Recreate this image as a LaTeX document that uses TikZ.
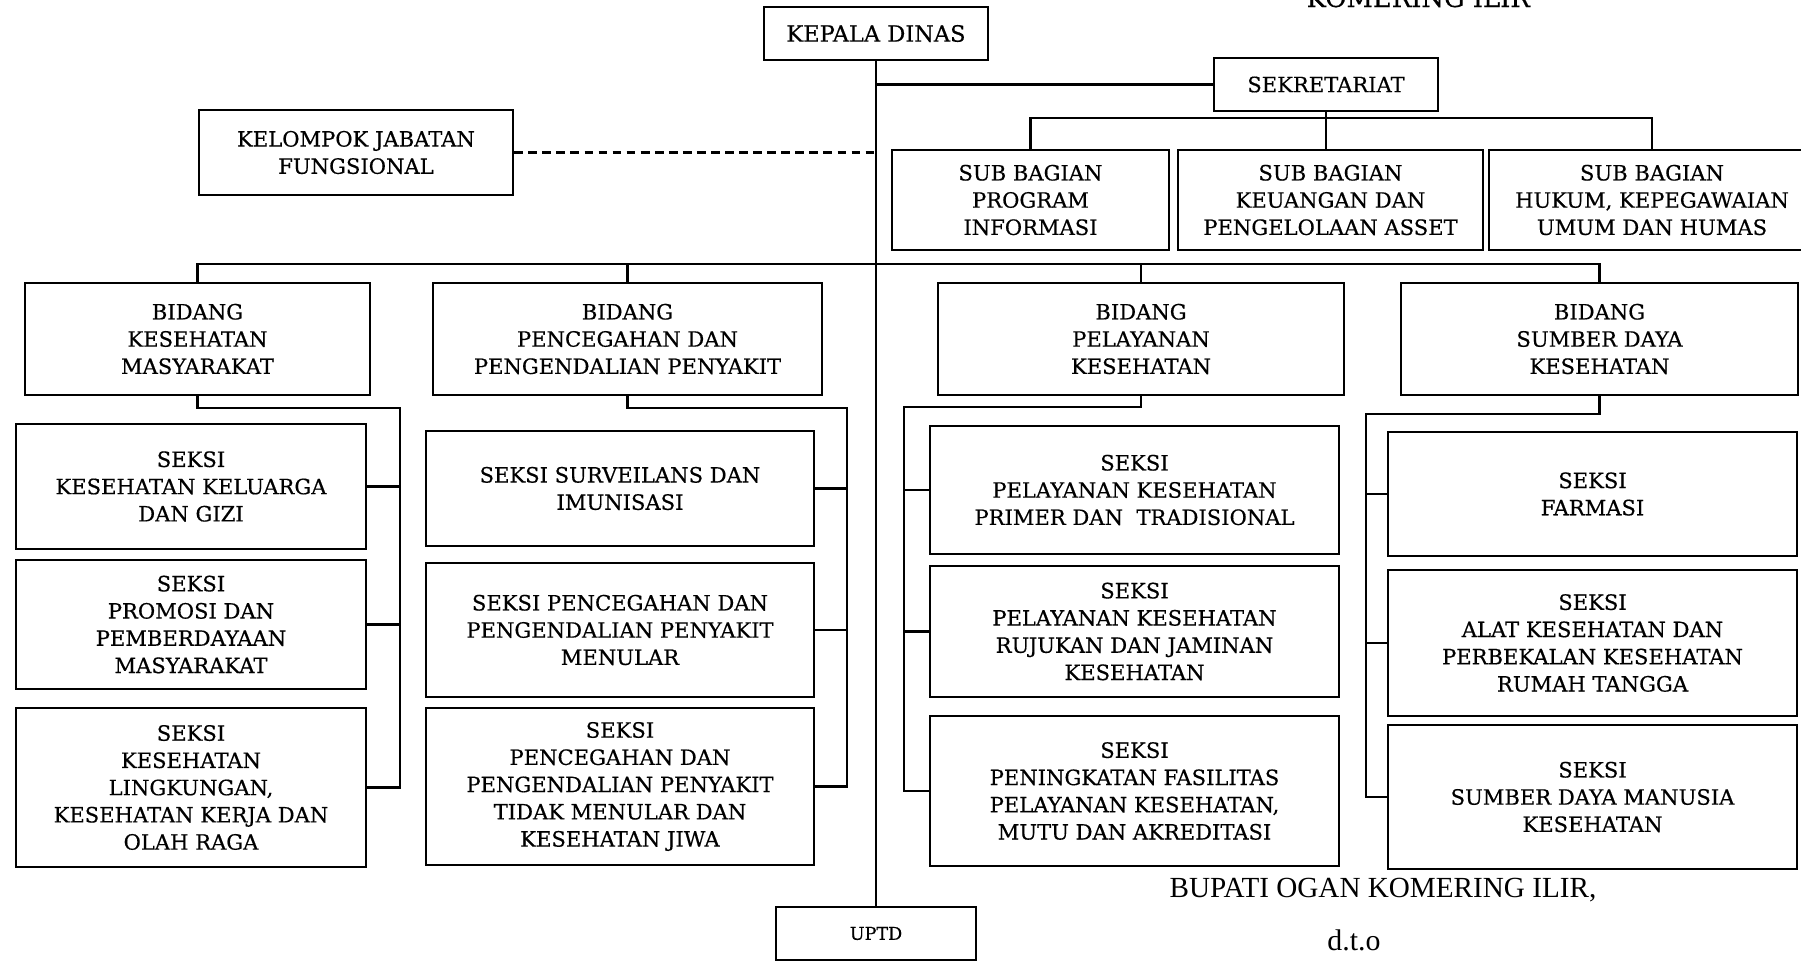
\documentclass[tikz,border=0pt]{standalone}
\usepackage{fontspec}
\setmainfont{DejaVu Serif}[FakeBold=0.5]
\newfontfamily\signfont{Liberation Serif}
\usetikzlibrary{calc}
\newcommand\boxfont{\fontsize{12}{15.5}\selectfont}
\tikzset{
  unit/.style={rectangle,draw=black,line width=1.4pt,fill=white,align=center,inner sep=1pt,font=\boxfont},
  wh/.style 2 args={minimum width=#1*0.02cm,minimum height=#2*0.02cm},
  link/.style={line width=1.4pt,black},
  fungs/.style={line width=1.5pt,black,dash pattern=on 5pt off 3pt},
}

\begin{document}
\begin{tikzpicture}[x=0.02cm,y=-0.02cm]
  \useasboundingbox (0,0) rectangle (1801,964);
  % title, cut off at the top edge
  \node[font=\fontsize{14.7}{16}\selectfont,anchor=base east] (judul) at (1536,7) {KOMERING ILIR};
  % top level
  \node[unit,wh={224}{53},font=\fontsize{12.8}{15}\selectfont] (kd) at (876,33.5) {KEPALA DINAS};
  \node[unit,wh={224}{53}] (sek) at (1326,84.5) {SEKRETARIAT};
  \node[unit,wh={314}{85}] (kjf) at (356,152.5) {KELOMPOK JABATAN\\FUNGSIONAL};
  \node[unit,wh={277}{100}] (prog) at (1030.5,200) {SUB BAGIAN\\PROGRAM\\INFORMASI};
  \node[unit,wh={305}{100}] (keu) at (1330.5,200) {SUB BAGIAN\\KEUANGAN DAN\\PENGELOLAAN ASSET};
  \node[unit,wh={326}{100}] (hukum) at (1652,200) {SUB BAGIAN\\HUKUM, KEPEGAWAIAN\\UMUM DAN HUMAS};
  % bidang
  \node[unit,wh={345}{112}] (kesmas) at (197.5,339) {BIDANG\\KESEHATAN\\MASYARAKAT};
  \node[unit,wh={389}{112}] (p2p) at (627.5,339) {BIDANG\\PENCEGAHAN DAN\\PENGENDALIAN PENYAKIT};
  \node[unit,wh={406}{112}] (pel) at (1141,339) {BIDANG\\PELAYANAN\\KESEHATAN};
  \node[unit,wh={397}{112}] (sd) at (1599.5,339) {BIDANG\\SUMBER DAYA\\KESEHATAN};
  % seksi under kesehatan masyarakat
  \node[unit,wh={350}{125}] (k1) at (191,486.5) {SEKSI\\KESEHATAN KELUARGA\\DAN GIZI};
  \node[unit,wh={350}{129}] (k2) at (191,624.5) {SEKSI\\PROMOSI DAN\\PEMBERDAYAAN\\MASYARAKAT};
  \node[unit,wh={350}{159}] (k3) at (191,787.5) {SEKSI\\KESEHATAN\\LINGKUNGAN,\\KESEHATAN KERJA DAN\\OLAH RAGA};
  % seksi under pencegahan dan pengendalian penyakit
  \node[unit,wh={388}{115}] (p1) at (620,488.5) {SEKSI SURVEILANS DAN\\IMUNISASI};
  \node[unit,wh={388}{134}] (p2) at (620,630) {SEKSI PENCEGAHAN DAN\\PENGENDALIAN PENYAKIT\\MENULAR};
  \node[unit,wh={388}{157}] (p3) at (620,786.5) {SEKSI\\PENCEGAHAN DAN\\PENGENDALIAN PENYAKIT\\TIDAK MENULAR DAN\\KESEHATAN JIWA};
  % seksi under pelayanan kesehatan
  \node[unit,wh={409}{128}] (l1) at (1134.5,490) {SEKSI\\PELAYANAN KESEHATAN\\PRIMER DAN\ \ TRADISIONAL};
  \node[unit,wh={409}{131}] (l2) at (1134.5,631.5) {SEKSI\\PELAYANAN KESEHATAN\\RUJUKAN DAN JAMINAN\\KESEHATAN};
  \node[unit,wh={409}{150}] (l3) at (1134.5,791) {SEKSI\\PENINGKATAN FASILITAS\\PELAYANAN KESEHATAN,\\MUTU DAN AKREDITASI};
  % seksi under sumber daya kesehatan
  \node[unit,wh={409}{124}] (s1) at (1592.5,494) {SEKSI\\FARMASI};
  \node[unit,wh={409}{146}] (s2) at (1592.5,643) {SEKSI\\ALAT KESEHATAN DAN\\PERBEKALAN KESEHATAN\\RUMAH TANGGA};
  \node[unit,wh={409}{144}] (s3) at (1592.5,797) {SEKSI\\SUMBER DAYA MANUSIA\\KESEHATAN};
  \node[unit,wh={200}{53},font=\fontsize{10}{12}\selectfont] (uptd) at (876,933.5) {UPTD};
  % signature
  \node[font=\signfont\fontsize{16.6}{18}\selectfont] (bupati) at (1383,890) {BUPATI OGAN KOMERING ILIR,};
  \node[font=\signfont\fontsize{17}{18}\selectfont] (dto) at (1354,940) {d.t.o};
  % bus points
  \coordinate (subbus) at (1326,118);
  \coordinate (bidbus) at (876,264);
  \coordinate (b1) at (400,408);
  \coordinate (b2) at (847,408);
  \coordinate (b3) at (904,407);
  \coordinate (b4) at (1366,414);
  % lines
  \draw[link] (kd.south) -- (uptd.north);
  \draw[link] (sek.west) -- (sek.west -| kd.south);
  \draw[fungs] (kjf.east) -- (kjf.east -| kd.south);
  \draw[link] (prog.north) |- (subbus) -| (hukum.north);
  \draw[link] (sek.south) -- (sek.south |- keu.north);
  \draw[link] (kesmas.north) |- (bidbus) -| (sd.north);
  \draw[link] (p2p.north) -- (p2p.north |- bidbus);
  \draw[link] (pel.north) -- (pel.north |- bidbus);
  \draw[link] (kesmas.south) |- (b1) |- (k3.east);
  \foreach \s in {k1,k2} \draw[link] (\s.east) -- (\s.east -| b1);
  \draw[link] (p2p.south) |- (b2) |- (p3.east);
  \foreach \s in {p1,p2} \draw[link] (\s.east) -- (\s.east -| b2);
  \draw[link] (pel.south) |- (b3) |- (l3.west);
  \foreach \s in {l1,l2} \draw[link] (\s.west) -- (\s.west -| b3);
  \draw[link] (sd.south) |- (b4) |- (s3.west);
  \foreach \s in {s1,s2} \draw[link] (\s.west) -- (\s.west -| b4);
\end{tikzpicture}
\end{document}
